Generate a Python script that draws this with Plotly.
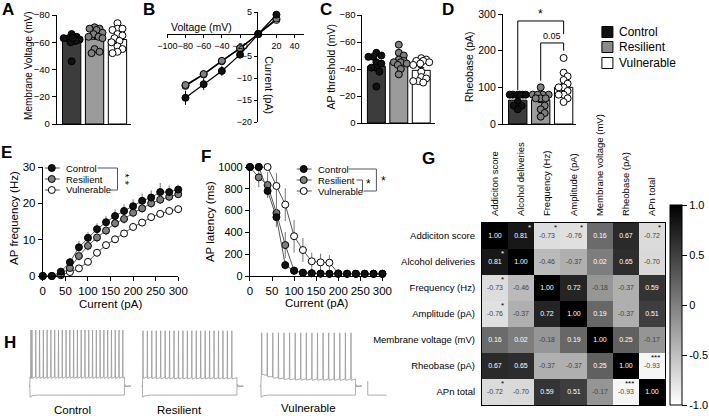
import math
import plotly.graph_objects as go

W, H = 709, 416


def X(px):
    return px / W


def Y(py):
    return 1 - py / H


def xd(a, b):
    return [X(a), X(b)]


def yd(top, bot):
    return [Y(bot), Y(top)]


FONT = "Liberation Sans, Arial, sans-serif"
groups = ["Control", "Resilient", "Vulnerable"]
bar_colors = ["#3c3c3c", "#9b9b9b", "#ffffff"]
pt_colors = ["#111111", "#7f7f7f", "#ffffff"]

# ---------------- Panel A: membrane voltage ----------------
A_mean = [-61, -64, -62]
A_sem = [2.2, 1.8, 1.9]
A_ctrl = [-66, -64, -63, -63, -62, -61, -60, -46, -63]
A_res = [-71, -70, -70, -69, -67, -66, -64, -64, -63, -55, -52, -53]
A_vul = [-74, -70, -70, -69, -66, -65, -63, -61, -60, -57, -55, -53, -52]

# ---------------- Panel B: I-V ----------------
B_volt = [-80, -60, -40, -20, 0, 20]
B_ctrl = [-14.5, -11.4, -8.4, -4.7, 0, 4.4]
B_ctrl_sem = [1.6, 1.3, 1.1, 0.7, 0, 0.5]
B_res = [-11.6, -9.1, -6.1, -3.2, 0, 3.5]
B_res_sem = [0.8, 0.7, 0.5, 0.4, 0, 0.4]
B_vul = [-11.8, -9.2, -6.2, -3.3, 0, 3.2]
B_vul_sem = [0.8, 0.7, 0.5, 0.4, 0, 0.4]

# ---------------- Panel C: AP threshold ----------------
C_mean = [-42, -45, -39]
C_sem = [2.4, 1.9, 2.0]
C_ctrl = [-52, -50, -49, -49, -45, -44, -41, -41, -38, -27]
C_res = [-58, -52, -50, -47, -46, -45, -45, -44, -43, -40, -36]
C_vul = [-48, -47, -46, -46, -45, -44, -43, -38, -34, -33, -31, -30, -31]

# ---------------- Panel D: rheobase ----------------
D_mean = [65, 66, 100]
D_sem = [5, 7, 10]
D_ctrl = [80, 80, 80, 80, 80, 80, 60, 50, 50, 40]
D_res = [100, 80, 80, 80, 80, 70, 70, 70, 50, 40, 30, 20]
D_vul = [180, 140, 130, 120, 110, 100, 100, 90, 80, 80, 70, 60]

# ---------------- Panel E: AP frequency ----------------
E_current = [0, 20, 40, 60, 80, 100, 120, 140, 160, 180, 200, 220, 240, 260, 280, 300]
E_ctrl = [0, 0, 1.2, 3.8, 7.9, 10.5, 12.9, 14.8, 16.5, 17.9, 19.2, 20.7, 21.6, 23.1, 23.1, 23.8]
E_ctrl_sem = [0, 0, 0.6, 1.2, 1.8, 1.6, 1.6, 1.7, 1.8, 1.8, 1.9, 2.0, 2.0, 2.5, 1.8, 1.5]
E_res = [0, 0, 0.5, 2.2, 5.5, 8.3, 10.6, 12.5, 14.5, 15.7, 17.4, 18.6, 20.0, 21.0, 21.8, 22.5]
E_res_sem = [0, 0, 0.3, 0.8, 1.2, 1.3, 1.3, 1.3, 1.3, 1.3, 1.2, 1.2, 1.2, 1.2, 1.2, 1.1]
E_vul = [0, 0, 0.2, 1.1, 2.1, 3.9, 6.4, 8.5, 10.1, 11.7, 13.5, 14.7, 16.2, 17.1, 17.9, 18.4]
E_vul_sem = [0, 0, 0.2, 0.5, 0.7, 0.9, 1.0, 1.0, 1.0, 1.0, 1.0, 1.0, 0.9, 0.9, 0.8, 0.8]

# ---------------- Panel F: AP latency ----------------
F_current = E_current
F_ctrl = [1000, 1000, 780, 540, 100, 48, 30, 25, 22, 20, 20, 20, 20, 20, 20, 20]
F_ctrl_sem = [0, 0, 50, 80, 40, 15, 8, 5, 4, 4, 4, 4, 4, 4, 4, 4]
F_res = [1000, 905, 835, 578, 284, 50, 30, 25, 22, 20, 20, 20, 20, 20, 20, 20]
F_res_sem = [0, 90, 120, 130, 120, 20, 8, 5, 4, 4, 4, 4, 4, 4, 4, 4]
F_vul = [1000, 1000, 1000, 826, 655, 365, 238, 135, 125, 122, 25, 22, 20, 20, 20, 20]
F_vul_sem = [0, 0, 0, 120, 150, 150, 110, 80, 80, 70, 10, 5, 4, 4, 4, 4]

# ---------------- Panel G: correlation matrix ----------------
G_labels = ["Addiciton score", "Alcohol deliveries", "Frequency (Hz)", "Amplitude (pA)",
            "Membrane voltage (mV)", "Rheobase (pA)", "APn total"]
G_corr = [
    [1.00, 0.81, -0.73, -0.76, 0.16, 0.67, -0.72],
    [0.81, 1.00, -0.46, -0.37, 0.02, 0.65, -0.70],
    [-0.73, -0.46, 1.00, 0.72, -0.18, -0.37, 0.59],
    [-0.76, -0.37, 0.72, 1.00, 0.19, -0.37, 0.51],
    [0.16, 0.02, -0.18, 0.19, 1.00, 0.25, -0.17],
    [0.67, 0.65, -0.37, -0.37, 0.25, 1.00, -0.93],
    [-0.72, -0.70, 0.59, 0.51, -0.17, -0.93, 1.00],
]
# (row, col, mark)
G_stars = [(0, 1, "*"), (0, 2, "*"), (0, 3, "*"), (0, 6, "*"), (1, 0, "*"),
           (2, 0, "*"), (3, 0, "*"), (5, 6, "***"), (6, 0, "*"), (6, 5, "***")]

# ---------------- Panel H: example traces ----------------
H_spikes = [
    [2, 9, 20, 60, 100, 140, 180, 220, 260, 300, 340, 380, 420, 460, 500, 540, 580,
     620, 660, 700, 740, 780, 820, 860, 900, 940, 980],
    [4, 50, 97, 144, 191, 238, 285, 332, 379, 426, 473, 520, 567, 614, 661, 708,
     755, 802, 849, 896, 943],
    [6, 65, 124, 183, 242, 301, 360, 419, 478, 537, 596, 655, 714, 773, 832, 891, 950],
]
H_peak = [15, 14, 11]
H_plateau_start = [-52, -52, -46]
H_plateau_end = [-52, -53, -55]
H_rest = -65
H_hyper = -78
H_scalebar = (200, 20)  # ms, mV

fig = go.Figure()


def swarm(vals, center, ppx, ppy, d=5.0, half=8):
    """Deterministic beeswarm offsets (in pixels) limited to +-half px."""
    placed = []
    xs = [0.0] * len(vals)
    order = sorted(range(len(vals)), key=lambda i: vals[i])
    cands = [0]
    for k in range(1, half + 1):
        cands += [k, -k]
    for i in order:
        yp = vals[i] * ppy
        best, bestd = 0, -1
        for c in cands:
            md = min([math.hypot(c - a, yp - b) for a, b in placed] or [99])
            if md >= d:
                best = c
                break
            if md > bestd:
                best, bestd = c, md
        placed.append((best, yp))
        xs[i] = center + best / ppx
    return xs


def bar_panel(xa, ya, means, sems, data, ppx, ppy):
    fig.add_trace(go.Bar(x=[0, 1, 2], y=means, width=0.8,
                         marker=dict(color=bar_colors, line=dict(color="black", width=1)),
                         error_y=dict(type="data", array=sems, color="black", thickness=1, width=3),
                         xaxis=xa, yaxis=ya, showlegend=False, hoverinfo="skip"))
    for gi, vals in enumerate(data):
        fig.add_trace(go.Scatter(x=swarm(vals, gi, ppx, ppy), y=vals, mode="markers",
                                 marker=dict(size=7, color=pt_colors[gi], line=dict(color="black", width=1)),
                                 xaxis=xa, yaxis=ya, showlegend=False, cliponaxis=False))


bar_panel("x", "y", A_mean, A_sem, [A_ctrl, A_res, A_vul], 23, 109 / 80)
bar_panel("x3", "y3", C_mean, C_sem, [C_ctrl, C_res, C_vul], 22.5, 108 / 80)
bar_panel("x4", "y4", D_mean, D_sem, [D_ctrl, D_res, D_vul], 23, 110 / 300)

# D significance brackets (in D data units)
fig.add_trace(go.Scatter(x=[0, 0, 2, 2], y=[93, 281, 281, 245], mode="lines",
                         line=dict(color="black", width=1), xaxis="x4", yaxis="y4",
                         showlegend=False, hoverinfo="skip"))
fig.add_trace(go.Scatter(x=[1, 1, 2, 2], y=[118, 221, 221, 200], mode="lines",
                         line=dict(color="black", width=1), xaxis="x4", yaxis="y4",
                         showlegend=False, hoverinfo="skip"))

# B I-V
for yy, ee, col in [(B_vul, B_vul_sem, pt_colors[2]), (B_res, B_res_sem, pt_colors[1]),
                    (B_ctrl, B_ctrl_sem, pt_colors[0])]:
    fig.add_trace(go.Scatter(x=B_volt, y=yy, mode="lines+markers",
                             error_y=dict(type="data", array=ee, color="black", thickness=1, width=0),
                             line=dict(color="black", width=1.2),
                             marker=dict(size=7, color=col, line=dict(color="black", width=1)),
                             xaxis="x2", yaxis="y2", showlegend=False, cliponaxis=False))

# E and F
for xa, ya, xs, sets in [
    ("x5", "y5", E_current, [(E_vul, E_vul_sem, 2), (E_res, E_res_sem, 1), (E_ctrl, E_ctrl_sem, 0)]),
    ("x6", "y6", F_current, [(F_vul, F_vul_sem, 2), (F_res, F_res_sem, 1), (F_ctrl, F_ctrl_sem, 0)]),
]:
    for yy, ee, gi in sets:
        fig.add_trace(go.Scatter(x=xs, y=yy, mode="lines+markers",
                                 error_y=dict(type="data", array=ee, color="#777777", thickness=1, width=0),
                                 line=dict(color="#555555", width=1),
                                 marker=dict(size=7, color=pt_colors[gi], line=dict(color="black", width=1)),
                                 xaxis=xa, yaxis=ya, showlegend=False, cliponaxis=False))

# G heatmap
G_text = [[f"{v:.2f}" for v in row] for row in G_corr]
fig.add_trace(go.Heatmap(
    z=G_corr, x=list(range(7)), y=list(range(7)), text=G_text, texttemplate="%{text}",
    textfont=dict(size=7, family=FONT), colorscale=[[0, "#ffffff"], [1, "#000000"]],
    zmin=-1, zmax=1, xaxis="x7", yaxis="y7", hoverinfo="skip",
    colorbar=dict(x=X(673), xanchor="left", y=Y(305), yanchor="middle", len=200 / H,
                  lenmode="fraction", thickness=12, thicknessmode="pixels",
                  outlinewidth=1, outlinecolor="black", ticks="outside", ticklen=5,
                  tickcolor="black", tickvals=[1, 0.5, 0, -0.5, -1],
                  ticktext=["1.0", "0.5", "0", "-0.5", "-1.0"],
                  tickfont=dict(size=11, family=FONT, color="black"), xpad=0, ypad=0)))

# H traces
for gi in range(3):
    sp = H_spikes[gi]
    p0, p1 = H_plateau_start[gi], H_plateau_end[gi]
    xs, ys = [-10, 0], [H_rest, H_rest]
    for t in sp:
        p = p1 + (p0 - p1) * math.exp(-t / 120)
        xs += [t, t + 3, t + 6]
        ys += [p, H_peak[gi], p - 2]
    xs += [1000, 1000, 1010, 1040, 1070]
    ys += [p1, H_rest + 4, H_rest - 1, H_rest, H_rest]
    ax = str(8 + gi)
    fig.add_trace(go.Scatter(x=xs, y=ys, mode="lines", line=dict(color="#999999", width=0.8),
                             xaxis="x" + ax, yaxis="y" + ax, showlegend=False, hoverinfo="skip"))
    hx = [-10, 0, 3, 25, 80, 1000, 1000, 1015, 1070]
    hy = [H_rest, H_rest, H_hyper - 3, H_hyper - 1, H_hyper, H_hyper, H_rest + 2, H_rest, H_rest]
    fig.add_trace(go.Scatter(x=hx, y=hy, mode="lines", line=dict(color="#999999", width=0.8),
                             xaxis="x" + ax, yaxis="y" + ax, showlegend=False, hoverinfo="skip"))
# scale bar
sb_ms, sb_mv = H_scalebar
fig.add_trace(go.Scatter(x=[1130, 1130, 1130 + sb_ms], y=[H_hyper + sb_mv, H_hyper, H_hyper],
                         mode="lines", line=dict(color="#999999", width=0.8),
                         xaxis="x10", yaxis="y10", showlegend=False, hoverinfo="skip"))


# ---------- decorative legends / brackets on a pixel overlay axis ----------
def pline(xs, ys, color="#555555", width=1):
    fig.add_trace(go.Scatter(x=xs, y=ys, mode="lines", line=dict(color=color, width=width),
                             xaxis="x11", yaxis="y11", showlegend=False, hoverinfo="skip"))


def pmark(x, y, color, symbol="circle", size=7):
    fig.add_trace(go.Scatter(x=[x], y=[y], mode="markers",
                             marker=dict(size=size, color=color, symbol=symbol,
                                         line=dict(color="black", width=1)),
                             xaxis="x11", yaxis="y11", showlegend=False, cliponaxis=False,
                             hoverinfo="skip"))


annotations = []


def txt(x, y, s, size=10, xanchor="left", yanchor="middle", bold=False, angle=0, color="black",
        xref="paper", yref="paper"):
    if xref == "paper":
        x, y = X(x), Y(y)
    annotations.append(dict(x=x, y=y, xref=xref, yref=yref, text=f"<b>{s}</b>" if bold else s,
                            showarrow=False, xanchor=xanchor, yanchor=yanchor, textangle=angle,
                            font=dict(size=size, family=FONT, color=color)))


# top-right legend (squares)
for gi, yy in enumerate([32, 47, 63]):
    pmark(610, yy, ["#111111", "#8c8c8c", "#ffffff"][gi], symbol="square", size=11)
    txt(620, yy, groups[gi], size=12)

# E legend
E_rows = [168, 179, 190]
for gi, yy in enumerate(E_rows):
    pline([45, 60], [yy, yy])
    pmark(52, yy, pt_colors[gi])
    txt(64, yy, groups[gi], size=9.5)
pline([98, 118, 118, 111], [168, 168, 190, 190])
txt(126, 180, "* *", size=11, xanchor="center", angle=90)

# F legend
F_rows = [169, 180, 191]
for gi, yy in enumerate(F_rows):
    pline([298, 313], [yy, yy])
    pmark(305, yy, pt_colors[gi])
    txt(317, yy, groups[gi], size=9.5)
pline([350, 378, 378, 365], [169, 169, 191, 191])
pline([358, 364, 364], [180, 180, 191])
txt(370, 184, "*", size=12, xanchor="center")
txt(385, 181, "*", size=12, xanchor="center")

# D stats text
txt(1, 300, "*", size=12, xanchor="center", xref="x4", yref="y4")
txt(1.5, 240, "0.05", size=9, xanchor="center", xref="x4", yref="y4")

# axis titles
txt(202, 27, "Voltage (mV)", size=10.5, xanchor="center")
txt(270, 85, "Current (pA)", size=10.5, xanchor="center", angle=90)
txt(28, 66, "Membrane Voltage (mV)", size=10, xanchor="center", angle=-90)
txt(332, 67, "AP threshold (mV)", size=10.5, xanchor="center", angle=-90)
txt(471, 67, "Rheobase (pA)", size=10.5, xanchor="center", angle=-90)
txt(14, 218, "AP frequency (Hz)", size=11.5, xanchor="center", angle=-90)
txt(211, 222, "AP latency (ms)", size=11.5, xanchor="center", angle=-90)
txt(111, 304, "Current (pA)", size=11.5, xanchor="center")
txt(318, 303, "Current (pA)", size=11.5, xanchor="center")

# G stars
for r, c, s in G_stars:
    dark = G_corr[r][c] > 0.5
    dx = 0.3 if s == "*" else 0.12
    txt(c + dx, r - 0.32, s, size=8, xanchor="center", color="white" if dark else "black",
        xref="x7", yref="y7")

# H labels
txt(73, 410, "Control", size=11.5, xanchor="center")
txt(180, 410, "Resilient", size=11.5, xanchor="center")
txt(310, 408, "Vulnerable", size=11.5, xanchor="center")

# panel letters
for s, (x, y) in {"A": (8, 9), "B": (150, 9), "C": (327, 9), "D": (450, 9), "E": (7, 152),
                  "F": (207, 156), "G": (430, 158), "H": (10, 342)}.items():
    txt(x, y, s, size=17, xanchor="center", bold=True)

base = dict(showline=True, linecolor="black", linewidth=1, ticks="outside", ticklen=4,
            tickwidth=1, tickcolor="black", showgrid=False, zeroline=False,
            tickfont=dict(size=9.5, family=FONT, color="black"), automargin=False)


def ax(**kw):
    d = dict(base)
    d.update(kw)
    return d


hidden = dict(visible=False, showgrid=False, zeroline=False)

layout = dict(
    width=W, height=H, margin=dict(l=0, r=0, t=0, b=0, pad=0), autosize=False,
    paper_bgcolor="white", plot_bgcolor="rgba(0,0,0,0)", showlegend=False,
    font=dict(family=FONT, color="black"), template="none",
    xaxis=ax(domain=xd(57, 132), anchor="y", range=[-0.65, 2.61], showticklabels=False, ticks=""),
    yaxis=ax(domain=yd(15, 124), anchor="x", range=[0, -80], tickvals=[0, -20, -40, -60, -80]),
    xaxis2=ax(domain=xd(168, 305), anchor="free", position=Y(34), range=[-100, 50],
              tickvals=[-100, -80, -60, -40, -20, 20, 40], ticklen=3, tickangle=0,
              tickfont=dict(size=9, family=FONT, color="black")),
    yaxis2=ax(domain=yd(12, 122), anchor="free", position=X(258), range=[-20, 5],
              tickvals=[5, -5, -10, -15, -20], ticklen=3,
              tickfont=dict(size=9, family=FONT, color="black")),
    xaxis3=ax(domain=xd(364, 437), anchor="y3", range=[-0.62, 2.62], showticklabels=False, ticks=""),
    yaxis3=ax(domain=yd(15, 123), anchor="x3", range=[0, -80], tickvals=[0, -20, -40, -60, -80]),
    xaxis4=ax(domain=xd(505, 578), anchor="y4", range=[-0.65, 2.52], showticklabels=False, ticks=""),
    yaxis4=ax(domain=yd(14, 124), anchor="x4", range=[0, 300], tickvals=[0, 100, 200, 300],
              tickfont=dict(size=10.5, family=FONT, color="black")),
    xaxis5=ax(domain=xd(43, 179), anchor="y5", range=[0, 300], tickvals=list(range(0, 301, 50)),
              tickangle=0, tickfont=dict(size=11.5, family=FONT, color="black")),
    yaxis5=ax(domain=yd(167, 276), anchor="x5", range=[0, 30], tickvals=[0, 10, 20, 30],
              tickfont=dict(size=11.5, family=FONT, color="black")),
    xaxis6=ax(domain=xd(251, 384), anchor="y6", range=[0, 300], tickvals=list(range(0, 301, 50)),
              tickangle=0, tickfont=dict(size=11.5, family=FONT, color="black")),
    yaxis6=ax(domain=yd(167, 276), anchor="x6", range=[0, 1000], tickvals=list(range(0, 1001, 200)),
              tickfont=dict(size=11, family=FONT, color="black")),
    xaxis7=ax(domain=xd(484, 668), anchor="y7", range=[-0.5, 6.5], side="top", tickvals=list(range(7)),
              ticktext=G_labels, tickangle=-90, ticklen=4, tickcolor="rgba(0,0,0,0)", mirror=True,
              tickfont=dict(size=9.5, family=FONT, color="black")),
    yaxis7=ax(domain=yd(223, 405), anchor="x7", range=[6.5, -0.5], tickvals=list(range(7)),
              ticktext=G_labels, ticklen=4, tickcolor="rgba(0,0,0,0)", mirror=True,
              tickfont=dict(size=9.5, family=FONT, color="black")),
    xaxis8=dict(hidden, domain=xd(29, 131.6), anchor="y8", range=[-10, 1070]),
    yaxis8=dict(hidden, domain=yd(323, 400), anchor="x8", range=[-85, 25]),
    xaxis9=dict(hidden, domain=xd(142, 244.6), anchor="y9", range=[-10, 1070]),
    yaxis9=dict(hidden, domain=yd(323, 400), anchor="x9", range=[-85, 25]),
    xaxis10=dict(hidden, domain=xd(261, 392), anchor="y10", range=[-10, 1369]),
    yaxis10=dict(hidden, domain=yd(323, 400), anchor="x10", range=[-85, 25]),
    xaxis11=dict(hidden, domain=[0, 1], anchor="y11", range=[0, W]),
    yaxis11=dict(hidden, domain=[0, 1], anchor="x11", range=[H, 0]),
    annotations=annotations,
)
fig.update_layout(**layout)
fig.write_html("out.html")
